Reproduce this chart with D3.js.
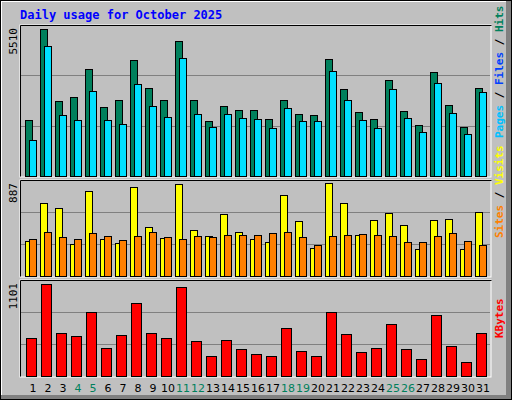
<!DOCTYPE html>
<html><head><meta charset="utf-8">
<script src="https://cdn.jsdelivr.net/npm/d3@7"></script>
<style>body{margin:0;background:#fff}</style>
</head><body>
<svg id="chart" width="512" height="400"></svg>
<script>
// daily values
var days = d3.range(1, 32);
var weekend = [4, 5, 11, 12, 18, 19, 25, 26];
var hits = [2047,5353,2737,2882,3899,2519,2773,4226,3209,2773,4917,2773,2010,2555,2410,2410,2083,2773,2265,2228,4263,3173,2337,2083,3500,2374,1865,3790,2592,1792,3209];
var files = [1320,4735,2228,2047,3100,2047,1901,3354,2555,2156,4299,2265,1792,2265,2119,2083,1756,2483,2010,2010,3827,2773,2047,1756,3173,2119,1611,3391,2301,1538,3064];
var visits = [326,679,632,298,781,344,307,818,456,353,846,428,372,577,409,344,316,744,512,260,856,679,381,521,586,474,251,521,530,251,595];
var sites = [344,409,363,344,400,372,335,372,409,363,344,372,363,381,381,381,400,409,363,288,372,381,391,381,372,316,316,372,400,326,288];
var kbytes = [431,1055,489,454,731,316,466,835,489,431,1020,397,235,408,304,258,235,547,281,235,731,477,270,316,593,304,200,697,339,166,489];

var svg = d3.select("#chart");
var mono = "'DejaVu Sans Mono', monospace";

// frame
svg.append("rect").attr("x",0).attr("y",0).attr("width",512).attr("height",400).attr("fill","#000");
svg.append("rect").attr("x",1).attr("y",1).attr("width",510).attr("height",398).attr("fill","#808080");
svg.append("rect").attr("x",1).attr("y",1).attr("width",505).attr("height",394).attr("fill","#fff");
svg.append("rect").attr("x",2).attr("y",2).attr("width",504).attr("height",393).attr("fill","#c0c0c0");

svg.append("text").attr("x",20).attr("y",19).attr("fill","#0000ff")
  .style("font", "bold 12px " + mono).text("Daily usage for October 2025");

var x = d3.scaleBand().domain(days).range([21, 486]).paddingInner(0);

function panel(top, bottom, max, series, label) {
  svg.append("rect").attr("x",20).attr("y",top).attr("width",471).attr("height",bottom-top+1)
    .attr("fill","#c0c0c0").attr("stroke","#fff").attr("stroke-width",1);
  svg.append("path").attr("d","M20.5,"+(bottom+0.5)+"V"+(top+0.5)+"H491.5").attr("stroke","#000").attr("fill","none");
  var y = d3.scaleLinear().domain([0, max]).range([bottom, top]);
  [1/3, 2/3].forEach(function(f){
    var gy = Math.round(bottom - (bottom-top)*f) + 0.5;
    svg.append("line").attr("x1",21).attr("x2",490).attr("y1",gy).attr("y2",gy).attr("stroke","#808080");
  });
  series.forEach(function(s){
    svg.append("g").selectAll("rect").data(s.data).enter().append("rect")
      .attr("x", function(d,i){ return x(days[i]) + 4 + s.off + 0.5; })
      .attr("y", function(d){ return Math.round(y(d)) + 0.5; })
      .attr("width", s.w)
      .attr("height", function(d){ return bottom - Math.round(y(d)); })
      .attr("fill", s.color).attr("stroke","#000");
  });
  svg.append("text").attr("transform","translate(17,"+(top+3)+") rotate(-90)")
    .attr("text-anchor","end").style("font","11px " + mono).text(max);
  var t = svg.append("text").attr("transform","translate(503,"+(bottom-38)+") rotate(-90)")
    .style("font","bold 11px " + mono);
  label.forEach(function(l, i){
    if (i > 0) t.append("tspan").attr("fill","#000").text(" / ");
    t.append("tspan").attr("fill", l[1]).text(l[0]);
  });
}

panel(25, 176, 5510, [
  {data: hits, color: "#00805c", off: 0, w: 7},
  {data: files, color: "#00e0ff", off: 4, w: 7}
], [["Pages","#00c0ff"],["Files","#0040ff"],["Hits","#00805c"]]);

panel(180, 276, 887, [
  {data: visits, color: "#ffff00", off: 0, w: 7},
  {data: sites, color: "#ff8000", off: 4, w: 7}
], [["Sites","#ff8000"],["Visits","#ffff00"]]);

panel(280, 376, 1101, [
  {data: kbytes, color: "#ff0000", off: 1, w: 10}
], [["KBytes","#ff0000"]]);

svg.append("g").selectAll("text").data(days).enter().append("text")
  .attr("x", function(d){ return x(d) + 12; })
  .attr("y", 392).attr("text-anchor","middle")
  .attr("fill", function(d){ return weekend.indexOf(d) >= 0 ? "#00805c" : "#000"; })
  .style("font","11px 'DejaVu Sans', sans-serif")
  .text(function(d){ return d; });
</script>
</body></html>
